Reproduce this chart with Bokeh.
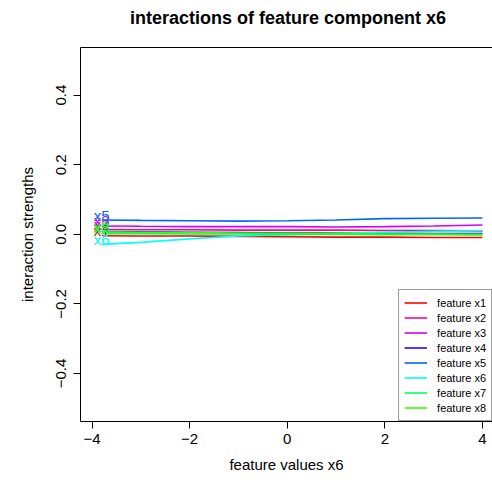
from bokeh.plotting import figure
from bokeh.models import (LinearAxis, FixedTicker, CustomJSTickFormatter, Legend,
                          LegendItem, Range1d, ColumnDataSource, Div)
from bokeh.layouts import column
from bokeh.core.properties import value
from bokeh.embed import file_html
from bokeh.resources import INLINE

# ---- data ----
x_vals = [-3.8, -3.0, -2.0, -1.0, 0.0, 1.0, 2.0, 3.0, 4.0]
series_names = ["x1", "x2", "x3", "x4", "x5", "x6", "x7", "x8"]
x1 = [-0.004, -0.005, -0.005, -0.006, -0.007, -0.008, -0.008, -0.009, -0.009]
x2 = [0.014, 0.013, 0.013, 0.012, 0.012, 0.012, 0.011, 0.011, 0.010]
x3 = [0.024, 0.023, 0.022, 0.022, 0.022, 0.021, 0.022, 0.024, 0.027]
x4 = [0.008, 0.007, 0.006, 0.005, 0.004, 0.004, 0.003, 0.002, 0.002]
x5 = [0.041, 0.040, 0.039, 0.038, 0.039, 0.041, 0.045, 0.046, 0.047]
x6 = [-0.029, -0.023, -0.013, -0.005, -0.001, 0.003, 0.006, 0.009, 0.011]
x7 = [0.002, 0.002, 0.001, 0.001, 0.000, 0.000, -0.001, -0.001, -0.002]
x8 = [0.007, 0.006, 0.005, 0.004, 0.003, 0.002, 0.001, 0.001, 0.000]
series_values = [x1, x2, x3, x4, x5, x6, x7, x8]
colors = ["#FF0000", "#FF0090", "#D000FF", "#3300FF", "#0066FF", "#00FFFF", "#00FF66", "#33FF00"]
legend_labels = ["feature x1", "feature x2", "feature x3", "feature x4",
                 "feature x5", "feature x6", "feature x7", "feature x8"]
x_ticks = [-4, -2, 0, 2, 4]
y_ticks = [-0.4, -0.2, 0.0, 0.2, 0.4]
title_text = "interactions of feature component x6"

FONT = "Liberation Sans"

title_div = Div(
    text=('<div style="width:408px;margin-left:84px;text-align:center;'
          'font-family:\'Liberation Sans\';font-weight:bold;font-size:18px;'
          'line-height:36px;color:black;white-space:nowrap;">' + title_text + '</div>'),
    width=492, height=36, margin=0)

p = figure(width=492, height=444, output_backend="svg", toolbar_location=None,
           x_range=Range1d(-4.236, 4.207), y_range=Range1d(-0.538, 0.537),
           min_border_left=80, min_border_right=0, min_border_top=11, min_border_bottom=59,
           x_axis_type=None, y_axis_type=None, margin=0)
p.outline_line_color = None
p.xgrid.visible = False
p.ygrid.visible = False
p.background_fill_color = "white"
p.border_fill_color = "white"

def style_axis(ax):
    ax.axis_line_color = "black"
    ax.axis_line_width = 1
    ax.major_tick_line_color = "black"
    ax.major_tick_in = 0
    ax.major_tick_out = 7
    ax.minor_tick_line_color = None
    ax.major_label_text_font = FONT
    ax.major_label_text_font_size = "15px"
    ax.major_label_text_color = "black"
    ax.axis_label_text_font = FONT
    ax.axis_label_text_font_size = "15px"
    ax.axis_label_text_font_style = "normal"
    ax.axis_label_text_color = "black"

xax = LinearAxis(ticker=FixedTicker(ticks=x_ticks),
                 formatter=CustomJSTickFormatter(code="return tick.toFixed(0).replace('-', '\u2212');"),
                 axis_label="feature values x6")
style_axis(xax)
xax.major_label_standoff = 5
xax.axis_label_standoff = 9
p.add_layout(xax, "below")

yax = LinearAxis(ticker=FixedTicker(ticks=y_ticks),
                 formatter=CustomJSTickFormatter(code="return tick.toFixed(1).replace('-', '\u2212');"),
                 axis_label="interaction strengths")
style_axis(yax)
yax.major_label_orientation = "vertical"
yax.major_label_standoff = 7
yax.axis_label_standoff = 18
p.add_layout(yax, "left")

top = LinearAxis(ticker=FixedTicker(ticks=[]))
top.axis_line_color = "black"
top.major_tick_line_color = None
top.major_tick_out = 0
top.major_tick_in = 0
top.minor_tick_line_color = None
top.minor_tick_out = 0
top.major_label_text_font_size = "0px"
top.major_label_standoff = 0
top.axis_label_standoff = 0
p.add_layout(top, "above")

items = []
for name, vals, col, lab in zip(series_names, series_values, colors, legend_labels):
    src = ColumnDataSource(dict(x=x_vals, y=vals))
    r = p.line("x", "y", source=src, line_color=col, line_width=1.6)
    items.append(LegendItem(label=lab, renderers=[r]))

for name, vals, col in zip(series_names, series_values, colors):
    src = ColumnDataSource(dict(x=[x_vals[0]], y=[vals[0]], t=[name]))
    p.text("x", "y", text="t", source=src, text_color=col, text_font=value(FONT),
           text_font_size="15px", text_align="center", text_baseline="middle", y_offset=-5)

legend = Legend(items=items, location="bottom_right")
legend.label_text_font = FONT
legend.label_text_font_size = "11px"
legend.label_text_color = "black"
legend.glyph_width = 23
legend.glyph_height = 15
legend.label_height = 15
legend.label_standoff = 10
legend.spacing = 0
legend.padding = 5
legend.margin = 0
legend.border_line_color = "#333333"
legend.border_line_width = 1
legend.background_fill_color = "white"
legend.background_fill_alpha = 1
p.add_layout(legend, "center")

layout = column(title_div, p, spacing=0)
open("out.html", "w").write(file_html(layout, INLINE))
